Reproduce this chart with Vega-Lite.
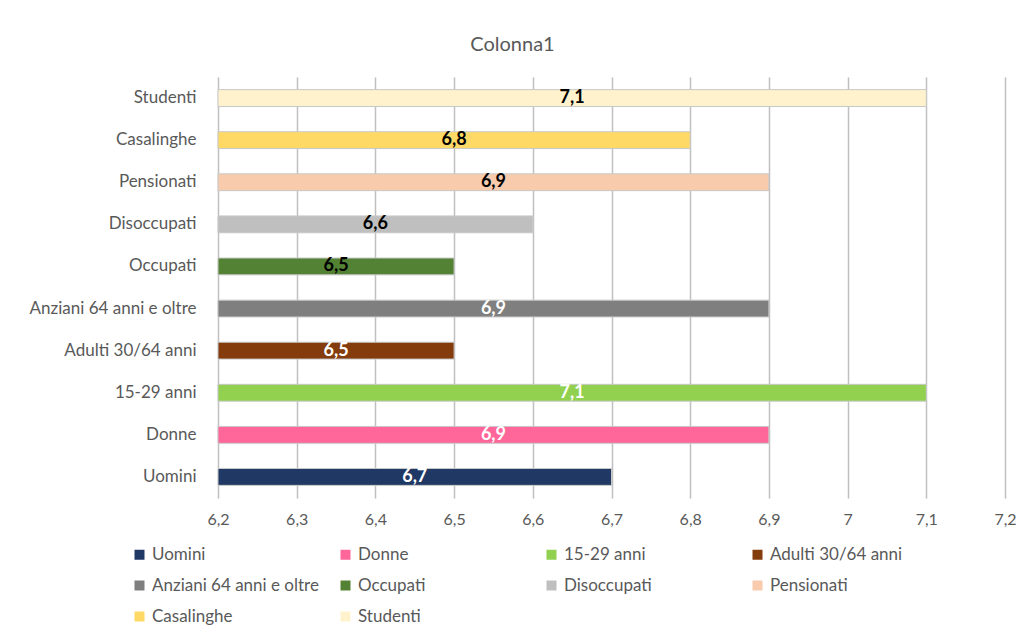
{
  "$schema": "https://vega.github.io/schema/vega-lite/v6.json",
  "width": 787,
  "height": 421,
  "autosize": {"type": "none"},
  "padding": {"left": 218, "top": 77, "right": 18, "bottom": 133},
  "background": "white",
  "title": {"text": "Colonna1", "fontSize": 20, "font": "Lato", "fontWeight": "normal", "color": "#595959", "anchor": "middle", "dx": -99, "offset": 22},
  "config": {
    "locale": {"number": {"decimal": ",", "thousands": ".", "grouping": [3], "currency": ["", " €"]}},
    "view": {"stroke": null},
    "font": "Lato"
  },
  "data": {
    "values": [
      {"cat": "Uomini", "value": 6.7},
      {"cat": "Donne", "value": 6.9},
      {"cat": "15-29 anni", "value": 7.1},
      {"cat": "Adulti 30/64 anni", "value": 6.5},
      {"cat": "Anziani 64 anni e oltre", "value": 6.9},
      {"cat": "Occupati", "value": 6.5},
      {"cat": "Disoccupati", "value": 6.6},
      {"cat": "Pensionati", "value": 6.9},
      {"cat": "Casalinghe", "value": 6.8},
      {"cat": "Studenti", "value": 7.1}
    ]
  },
  "transform": [{"calculate": "(datum.value + 6.2) / 2", "as": "mid"}],
  "encoding": {
    "y": {
      "field": "cat",
      "type": "nominal",
      "sort": ["Studenti", "Casalinghe", "Pensionati", "Disoccupati", "Occupati", "Anziani 64 anni e oltre", "Adulti 30/64 anni", "15-29 anni", "Donne", "Uomini"],
      "scale": {"paddingInner": 0.6, "paddingOuter": 0.3},
      "axis": {"title": null, "ticks": false, "domain": false, "grid": false, "labelFontSize": 17, "labelColor": "#595959", "labelPadding": 22, "labelFont": "Lato", "labelLimit": 300}
    }
  },
  "layer": [
    {
      "mark": {"type": "bar", "stroke": "#c8c8c8", "strokeWidth": 1},
      "encoding": {
        "x": {
          "field": "value",
          "type": "quantitative",
          "scale": {"domain": [6.2, 7.2], "zero": false, "nice": false},
          "axis": {"title": null, "values": [6.2, 6.3, 6.4, 6.5, 6.6, 6.7, 6.8, 6.9, 7.0, 7.1, 7.2], "format": ".1~f", "grid": true, "gridColor": "#c0c0c0", "gridWidth": 1.5, "ticks": false, "domain": false, "labelFlush": false, "labelPadding": 13, "labelFontSize": 16, "labelColor": "#595959", "labelFont": "Lato"}
        },
        "x2": {"datum": 6.2},
        "color": {
          "field": "cat",
          "type": "nominal",
          "scale": {
            "domain": ["Uomini", "Donne", "15-29 anni", "Adulti 30/64 anni", "Anziani 64 anni e oltre", "Occupati", "Disoccupati", "Pensionati", "Casalinghe", "Studenti"],
            "range": ["#1f3864", "#ff6699", "#92d050", "#843c0c", "#7f7f7f", "#548235", "#bfbfbf", "#f8cbad", "#ffd966", "#fff2cc"]
          },
          "legend": {
            "title": null,
            "orient": "none",
            "legendX": -87,
            "legendY": 469,
            "direction": "horizontal",
            "columns": 4,
            "gridAlign": "all",
            "columnPadding": 18,
            "rowPadding": 13,
            "symbolType": "square",
            "symbolSize": 100,
            "symbolStrokeWidth": 0,
            "labelFontSize": 17,
            "labelColor": "#595959",
            "labelFont": "Lato",
            "labelOffset": 4,
            "labelLimit": 300
          }
        }
      }
    },
    {
      "mark": {"type": "text", "fontWeight": "bold", "fontSize": 18, "font": "Lato"},
      "encoding": {
        "x": {"field": "mid", "type": "quantitative"},
        "text": {"field": "value", "type": "quantitative", "format": ".1f"},
        "color": {
          "condition": {"test": "indexof(['Studenti','Casalinghe','Pensionati','Disoccupati','Occupati'], datum.cat) >= 0", "value": "#000000"},
          "value": "#ffffff"
        }
      }
    }
  ]
}
